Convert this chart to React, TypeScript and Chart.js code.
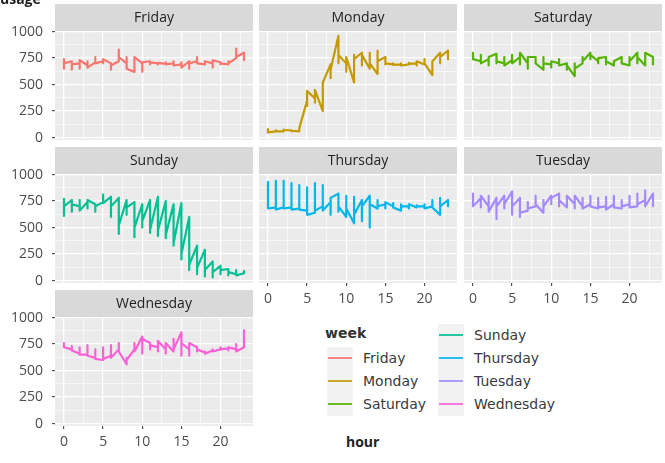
import React, { useEffect, useRef } from 'react';
import { Chart, registerables } from 'chart.js';

Chart.register(...registerables);

// x value of every reading (three readings per hour)
const hours = [0,0,0,1,1,1,2,2,2,3,3,3,4,4,4,5,5,5,6,6,6,7,7,7,8,8,8,9,9,9,10,10,10,11,11,11,12,12,12,13,13,13,14,14,14,15,15,15,16,16,16,17,17,17,18,18,18,19,19,19,20,20,20,21,21,21,22,22,22,23,23,23];

const fridayUsage = [740,650,700, 720,640,690, 700,650,730, 680,720,660, 710,760,700, 720,700,740, 700,640,680, 720,830,760, 700,760,650, 620,680,760, 700,620,710, 720,690,710, 700,690,705, 695,710,690, 700,720,680, 690,710,660, 720,650,700, 720,760,700, 690,710,720, 700,660,730, 710,690,700, 690,720,700, 750,840,760, 800,760,730];
const mondayUsage = [40,80,50, 60,70,60, 60,75,70, 70,60,65, 60,70,90, 350,300,440, 370,330,450, 250,380,520, 690,560,640, 960,700,780, 700,620,760, 520,780,740, 800,680,780, 650,800,700, 600,820,720, 760,690,700, 690,700,685, 690,700,680, 690,705,695, 700,680,720, 690,740,700, 590,700,720, 800,700,760, 820,740,760];
const saturdayUsage = [760,800,740, 720,780,700, 740,680,760, 790,700,720, 700,760,680, 730,780,700, 760,690,800, 700,650,760, 760,720,700, 640,760,700, 690,660,720, 700,740,680, 700,640,680, 580,700,650, 700,760,720, 800,740,780, 720,700,750, 760,690,720, 680,700,720, 760,720,700, 680,760,720, 800,700,760, 680,780,800, 760,690,700];
const sundayUsage = [770,610,700, 760,650,720, 700,760,660, 740,680,760, 720,650,700, 740,810,730, 790,600,700, 780,440,520, 760,620,690, 740,410,500, 720,500,560, 760,450,480, 790,420,470, 750,400,430, 720,330,350, 730,200,250, 600,100,150, 330,60,120, 290,40,100, 180,30,80, 140,60,100, 110,50,80, 60,100,50, 70,90,85];
const thursdayUsage = [700,930,680, 690,940,670, 690,940,680, 690,920,670, 680,900,670, 660,880,620, 640,920,660, 700,900,660, 740,620,780, 820,650,700, 600,800,680, 540,790,620, 760,560,700, 800,500,720, 680,760,700, 720,680,740, 700,730,690, 660,720,700, 700,680,720, 690,710,700, 700,720,680, 700,760,690, 620,780,700, 760,700,720];
const tuesdayUsage = [740,820,700, 780,690,800, 700,800,650, 780,580,700, 800,680,720, 840,620,700, 780,600,640, 660,740,680, 700,800,720, 640,760,700, 800,720,780, 820,700,760, 690,780,800, 720,680,800, 700,780,680, 720,800,700, 680,780,690, 700,790,670, 720,800,690, 680,760,700, 720,800,690, 700,820,720, 760,850,700, 820,740,700];
const wednesdayUsage = [760,740,720, 700,730,690, 660,720,650, 650,740,640, 620,700,610, 600,720,610, 640,740,620, 700,760,680, 560,620,600, 700,760,680, 820,660,800, 760,700,740, 720,680,780, 700,660,760, 680,800,700, 860,640,760, 700,640,760, 720,680,700, 670,680,660, 690,700,680, 700,720,700, 710,690,720, 700,750,680, 720,880,720];

const weekDays = ['Friday', 'Monday', 'Saturday', 'Sunday', 'Thursday', 'Tuesday', 'Wednesday'];
const dayColors = ['#F8766D', '#C49A00', '#53B400', '#00C094', '#00B6EB', '#A58AFF', '#FB61D7'];
const dayValues = [fridayUsage, mondayUsage, saturdayUsage, sundayUsage, thursdayUsage, tuesdayUsage, wednesdayUsage];

const yMajor = [0, 250, 500, 750, 1000];
const yMinor = [125, 375, 625, 875];
const xMajor = [0, 5, 10, 15, 20];
const xMinor = [2.5, 7.5, 12.5, 17.5, 22.5];

// layout (facet grid)
const COL_LEFT = [55, 259, 464];
const ROW_TOP = [4, 147, 290];
const PANEL_W = 198;
const STRIP_H = 27;
const PANEL_H = 109;
const Y_AXIS_W = 55;
const X_AXIS_H = 32;
const EXTRA = 22;
const FONT = "'Open Sans', 'DejaVu Sans', sans-serif";

// facet positions: [row, col, showXAxis]
const facetPos: [number, number, boolean][] = [
  [0, 0, false], [0, 1, false], [0, 2, false],
  [1, 0, false], [1, 1, true], [1, 2, true],
  [2, 0, true],
];

const stripPlugin = {
  id: 'facetStrip',
  beforeDraw(chart: any, _args: any, opts: any) {
    const { ctx, chartArea } = chart;
    const w = chartArea.right - chartArea.left;
    ctx.save();
    ctx.fillStyle = '#EBEBEB';
    ctx.fillRect(chartArea.left, chartArea.top, w, chartArea.bottom - chartArea.top);
    ctx.fillStyle = '#D9D9D9';
    ctx.fillRect(chartArea.left, chartArea.top - STRIP_H, w, STRIP_H);
    ctx.fillStyle = '#222222';
    ctx.font = `14px ${FONT}`;
    ctx.textAlign = 'center';
    ctx.textBaseline = 'middle';
    ctx.fillText(opts.label, chartArea.left + w / 2, chartArea.top - STRIP_H / 2 + 1);
    ctx.restore();
  },
};

function Panel({ idx }: { idx: number }) {
  const ref = useRef<HTMLCanvasElement | null>(null);
  const [row, col, showX] = facetPos[idx];
  const showY = col === 0;
  const left = showY ? COL_LEFT[col] - Y_AXIS_W : COL_LEFT[col];
  const width = PANEL_W + (showY ? Y_AXIS_W : 0);
  const height = STRIP_H + PANEL_H + (showX ? X_AXIS_H : EXTRA);

  useEffect(() => {
    const values = dayValues[idx];
    const isMajorX = (v: any) => xMajor.includes(v);
    const isMajorY = (v: any) => yMajor.includes(v);
    const chart = new Chart(ref.current as HTMLCanvasElement, {
      type: 'line',
      data: {
        datasets: [
          {
            label: weekDays[idx],
            data: hours.map((h, i) => ({ x: h, y: values[i] })),
            borderColor: dayColors[idx],
            backgroundColor: dayColors[idx],
            borderWidth: 2.2,
            pointRadius: 0,
            tension: 0,
            borderJoinStyle: 'round',
            fill: false,
          },
        ],
      },
      options: {
        animation: false,
        responsive: false,
        maintainAspectRatio: false,
        events: [],
        layout: { padding: { top: STRIP_H, left: 0, right: 0, bottom: showX ? 0 : EXTRA } },
        plugins: {
          legend: { display: false },
          tooltip: { enabled: false },
          facetStrip: { label: weekDays[idx] },
        } as any,
        scales: {
          x: {
            type: 'linear',
            min: -1.15,
            max: 24.15,
            afterBuildTicks: (s: any) => {
              s.ticks = [...xMajor, ...xMinor].sort((a, b) => a - b).map((v) => ({ value: v }));
            },
            afterFit: (s: any) => {
              s.height = showX ? X_AXIS_H : 0;
            },
            ticks: {
              display: showX,
              autoSkip: false,
              maxRotation: 0,
              padding: 5,
              color: '#4D4D4D',
              font: { family: FONT, size: 14 },
              callback: (v: any) => (isMajorX(v) ? String(v) : ''),
            },
            grid: {
              color: '#FFFFFF',
              lineWidth: (c: any) => (isMajorX(c.tick?.value) ? 1.3 : 0.6),
              drawTicks: showX,
              tickLength: 3,
              tickWidth: 1,
              tickColor: (c: any) => (isMajorX(c.tick?.value) ? '#333333' : 'rgba(0,0,0,0)'),
            },
            border: { display: false },
          },
          y: {
            type: 'linear',
            min: -22,
            max: 1005,
            afterBuildTicks: (s: any) => {
              s.ticks = [...yMajor, ...yMinor].sort((a, b) => a - b).map((v) => ({ value: v }));
            },
            afterFit: (s: any) => {
              s.width = showY ? Y_AXIS_W : 0;
            },
            ticks: {
              display: showY,
              autoSkip: false,
              padding: 9,
              color: '#4D4D4D',
              font: { family: FONT, size: 14 },
              callback: (v: any) => (isMajorY(v) ? String(v) : ''),
            },
            grid: {
              color: '#FFFFFF',
              lineWidth: (c: any) => (isMajorY(c.tick?.value) ? 1.3 : 0.6),
              drawTicks: showY,
              tickLength: 3,
              tickWidth: 1,
              tickColor: (c: any) => (isMajorY(c.tick?.value) ? '#333333' : 'rgba(0,0,0,0)'),
            },
            border: { display: false },
          },
        },
      } as any,
      plugins: [stripPlugin as any],
    });
    return () => chart.destroy();
  }, [idx, showX, showY]);

  return (
    <canvas
      ref={ref}
      width={width}
      height={height}
      style={{ position: 'absolute', left, top: ROW_TOP[row], width, height }}
    />
  );
}

const legendCol1 = [0, 1, 2];
const legendCol2 = [3, 4, 5, 6];

function LegendItem({ idx, x, cy }: { idx: number; x: number; cy: number }) {
  return (
    <>
      <div style={{ position: 'absolute', left: x, top: cy - 11.5, width: 26, height: 23, background: '#F2F2F2' }} />
      <div style={{ position: 'absolute', left: x + 1, top: cy - 1, width: 24, height: 2, background: dayColors[idx], opacity: 0.85 }} />
      <div
        style={{
          position: 'absolute',
          left: x + 36,
          top: cy - 9,
          height: 18,
          lineHeight: '18px',
          fontFamily: "'DejaVu Sans', sans-serif",
          fontSize: 14,
          color: '#3A3A3A',
          whiteSpace: 'nowrap',
        }}
      >
        {weekDays[idx]}
      </div>
    </>
  );
}

export default function App() {
  return (
    <div style={{ position: 'absolute', left: 0, top: 0, width: 665, height: 463, background: '#FFFFFF', overflow: 'hidden' }}>
      {weekDays.map((d, i) => (
        <Panel key={d} idx={i} />
      ))}
      <div
        style={{
          position: 'absolute',
          left: 0,
          top: -8,
          fontFamily: FONT,
          fontWeight: 700,
          fontSize: 14,
          lineHeight: '14px',
          color: '#222',
        }}
      >
        usage
      </div>
      <div
        style={{
          position: 'absolute',
          left: 346,
          top: 433,
          fontFamily: FONT,
          fontWeight: 700,
          fontSize: 14,
          lineHeight: '18px',
          color: '#222',
        }}
      >
        hour
      </div>
      <div
        style={{
          position: 'absolute',
          left: 325,
          top: 324,
          fontFamily: "'DejaVu Sans', sans-serif",
          fontWeight: 700,
          fontSize: 14,
          lineHeight: '18px',
          color: '#333',
        }}
      >
        week
      </div>
      {legendCol1.map((idx, k) => (
        <LegendItem key={idx} idx={idx} x={327} cy={358 + k * 23} />
      ))}
      {legendCol2.map((idx, k) => (
        <LegendItem key={idx} idx={idx} x={438} cy={335 + k * 23} />
      ))}
    </div>
  );
}
